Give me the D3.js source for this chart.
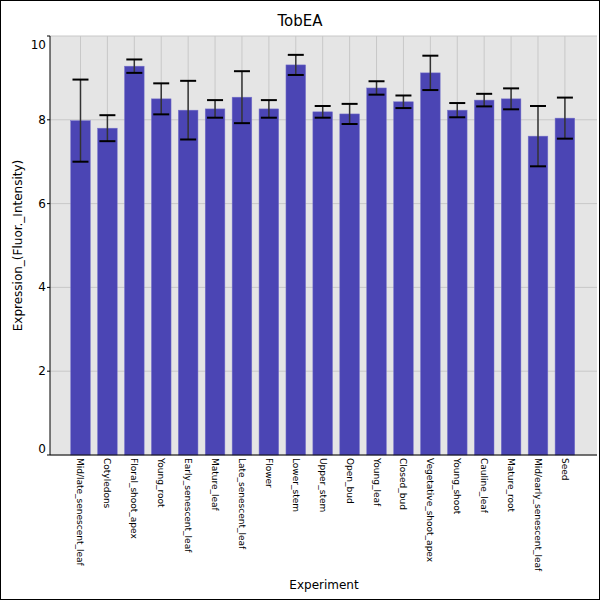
<!DOCTYPE html>
<html><head><meta charset="utf-8">
<script src="https://cdn.jsdelivr.net/npm/d3@7"></script>
<style>body{margin:0;background:#fff}</style>
</head><body>
<svg id="chart" width="600" height="600"></svg>
<script>
// samples and values
const experiments = ["Mid/late_senescent_leaf", "Cotyledons", "Floral_shoot_apex", "Young_root",
    "Early_senescent_leaf", "Mature_leaf", "Late_senescent_leaf", "Flower", "Lower_stem", "Upper_stem",
    "Open_bud", "Young_leaf", "Closed_bud", "Vegetative_shoot_apex", "Young_shoot", "Cauline_leaf",
    "Mature_root", "Mid/early_senescent_leaf", "Seed"];
const means = [7.98, 7.80, 9.28, 8.50, 8.23, 8.26, 8.54, 8.26, 9.31, 8.19,
    8.14, 8.76, 8.43, 9.12, 8.23, 8.47, 8.50, 7.61, 8.04];
const errTop = [8.96, 8.11, 9.44, 8.87, 8.93, 8.47, 9.16, 8.47, 9.55, 8.33,
    8.38, 8.92, 8.58, 9.53, 8.40, 8.62, 8.75, 8.33, 8.53];
const yTicks = [0, 2, 4, 6, 8, 10];

const svg = d3.select("#chart");
const plot = {left: 50, right: 597, top: 36, bottom: 455};
const font = "DejaVu Sans, sans-serif";

svg.append("rect").attr("x", 0.5).attr("y", 0.5).attr("width", 599).attr("height", 599)
    .attr("fill", "none").attr("stroke", "#000");

const x = d3.scaleBand().domain(experiments).range([63.4, 582]).padding(0.27);
const y = d3.scaleLinear().domain([0, 10]).range([plot.bottom, plot.top]);

svg.append("rect").attr("x", plot.left).attr("y", plot.top)
    .attr("width", plot.right - plot.left).attr("height", plot.bottom - plot.top)
    .attr("fill", "#e5e5e5");

// grid
svg.selectAll(".hg").data(yTicks).enter().append("line")
    .attr("x1", plot.left).attr("x2", plot.right)
    .attr("y1", d => y(d)).attr("y2", d => y(d))
    .attr("stroke", "#c8c8c8");
svg.selectAll(".vg").data(experiments).enter().append("line")
    .attr("x1", d => x(d) + x.bandwidth() / 2).attr("x2", d => x(d) + x.bandwidth() / 2)
    .attr("y1", plot.top).attr("y2", plot.bottom)
    .attr("stroke", "#c8c8c8");

// bars
svg.selectAll(".bar").data(experiments).enter().append("rect")
    .attr("x", d => x(d)).attr("width", x.bandwidth())
    .attr("y", (d, i) => y(means[i])).attr("height", (d, i) => y(0) - y(means[i]))
    .attr("fill", "#4b45b4").attr("stroke", "#7a76cc").attr("stroke-width", 0.5);

// error bars
const eb = svg.selectAll(".err").data(experiments).enter().append("g");
eb.append("line")
    .attr("x1", d => x(d) + x.bandwidth() / 2).attr("x2", d => x(d) + x.bandwidth() / 2)
    .attr("y1", (d, i) => y(errTop[i])).attr("y2", (d, i) => y(2 * means[i] - errTop[i]))
    .attr("stroke", "#333").attr("stroke-width", 1.5);
[1, -1].forEach(function(s) {
    eb.append("line")
        .attr("x1", d => x(d) + x.bandwidth() / 2 - 8).attr("x2", d => x(d) + x.bandwidth() / 2 + 8)
        .attr("y1", (d, i) => y(means[i] + s * (errTop[i] - means[i])))
        .attr("y2", (d, i) => y(means[i] + s * (errTop[i] - means[i])))
        .attr("stroke", "#000").attr("stroke-width", 2);
});

// axes frame
svg.append("line").attr("x1", plot.left).attr("x2", plot.left)
    .attr("y1", plot.top).attr("y2", plot.bottom).attr("stroke", "#000");
svg.append("line").attr("x1", plot.left).attr("x2", plot.right)
    .attr("y1", plot.bottom).attr("y2", plot.bottom).attr("stroke", "#000");

// y tick labels (ends shifted inward like the reference)
svg.selectAll(".yl").data(yTicks).enter().append("text")
    .attr("x", plot.left - 4)
    .attr("y", d => d === 10 ? y(d) + 13 : d === 0 ? y(d) - 2 : y(d) + 4)
    .attr("text-anchor", "end").attr("font-family", font).attr("font-size", 12)
    .text(d => d);
svg.selectAll(".yt").data(yTicks).enter().append("line")
    .attr("x1", plot.left - 3).attr("x2", plot.left)
    .attr("y1", d => y(d)).attr("y2", d => y(d)).attr("stroke", "#000");

// x labels
svg.selectAll(".xl").data(experiments).enter().append("text")
    .attr("transform", d => "translate(" + (x(d) + x.bandwidth() / 2 - 3) + "," + (plot.bottom + 3) + ") rotate(90)")
    .attr("font-family", font).attr("font-size", 9).text(d => d);

svg.append("text").attr("x", 300).attr("y", 26).attr("text-anchor", "middle")
    .attr("font-family", font).attr("font-size", 15).text("TobEA");
svg.append("text").attr("x", 324).attr("y", 589).attr("text-anchor", "middle")
    .attr("font-family", font).attr("font-size", 12).text("Experiment");
svg.append("text").attr("transform", "translate(22," + (plot.top + plot.bottom) / 2 + ") rotate(-90)")
    .attr("text-anchor", "middle").attr("font-family", font).attr("font-size", 12)
    .text("Expression_(Fluor._Intensity)");
</script>
</body></html>
